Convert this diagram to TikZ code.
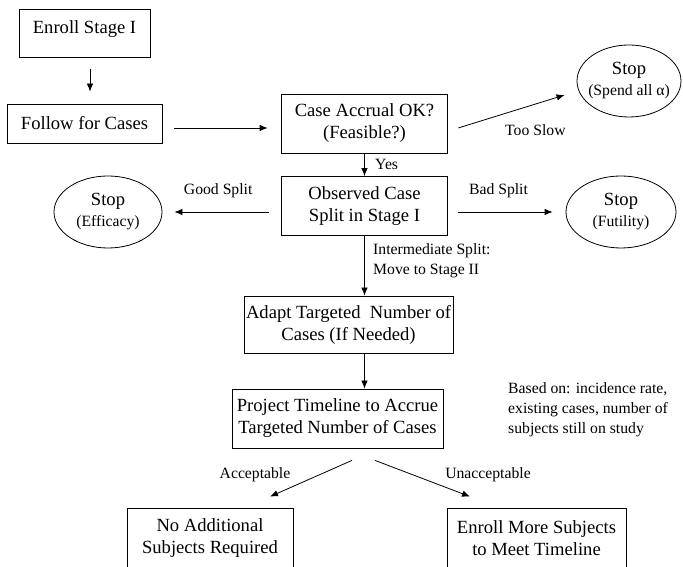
\documentclass[tikz,border=0pt]{standalone}
\usepackage{fontspec}
\setmainfont{Liberation Serif}
\usepackage{tikz}
\usetikzlibrary{shapes.geometric, arrows.meta}
\usetikzlibrary{shapes,arrows,positioning}
\newcommand{\bigtxt}{\fontsize{18.6pt}{22pt}\selectfont}
\newcommand{\smalltxt}{\fontsize{15.7pt}{20pt}\selectfont}
\tikzstyle{stagebox} = [rectangle, draw=black, line width=0.8pt, align=center, font=\bigtxt, inner sep=2pt]
\tikzstyle{stopnode} = [ellipse, draw=black, line width=0.8pt, align=center, font=\bigtxt, inner xsep=-8pt, inner ysep=0pt, minimum width=104pt, minimum height=72pt]
\tikzstyle{lbl} = [font=\smalltxt, align=left]
\tikzstyle{arrow} = [line width=0.8pt, -{Latex[length=8pt,width=6.5pt]}]
\tikzstyle{plainline} = [line width=0.8pt]

\begin{document}
\begin{tikzpicture}[x=1pt, y=1pt, node distance=90pt]
        \useasboundingbox (0,0) rectangle (683,567);

        % Stage I enrollment and follow-up
        \node (enroll) [stagebox, minimum width=131pt, minimum height=48pt, text depth=12.7pt] at (84.5,534) {Enroll Stage I};
        \node (follow) [stagebox, below of=enroll, node distance=90.5pt, minimum width=155pt, minimum height=39pt] {Follow for Cases};
        \node (caseok) [stagebox, right of=follow, node distance=280pt, minimum width=166pt, minimum height=59pt] {Case Accrual OK?\\(Feasible?)};
        \node (observed) [stagebox, below of=caseok, node distance=82.5pt, minimum width=166pt, minimum height=59pt] {Observed Case\\Split in Stage I};

        % Stopping outcomes
        \node (spend) [stopnode, right of=caseok, node distance=264.5pt, yshift=42.5pt] {Stop\\[-1pt]{\smalltxt (Spend all α)}};
        \node (efficacy) [stopnode, left of=observed, node distance=256.5pt, yshift=-6pt, minimum width=108pt] {Stop\\[-1pt]{\smalltxt (Efficacy)}};
        \node (futility) [stopnode, right of=observed, node distance=256.5pt, yshift=-6pt, minimum width=110pt] {Stop\\[-1pt]{\smalltxt (Futility)}};

        % Stage II planning
        \node (adapt) [stagebox, below of=observed, node distance=118.5pt, xshift=-16pt, minimum width=186pt, minimum height=57pt] {Adapt Targeted~ Number of\\Cases (If Needed)};
        \node (project) [stagebox, below of=adapt, node distance=94pt, xshift=-11pt, minimum width=211pt, minimum height=59pt] {Project Timeline to Accrue\\Targeted Number of Cases};
        \node (noadd) [stagebox, minimum width=166pt, minimum height=61pt] at (210,28.5) {No Additional\\Subjects Required};
        \node (moresub) [stagebox, minimum width=179pt, minimum height=61pt] at (536.5,28.5) {Enroll More Subjects\\to Meet Timeline};
        \node (basedlbl) [lbl, anchor=west] at (504.7,157) {Based on: incidence rate,\\existing cases, number of\\subjects still on study};

        % Connections
        \draw [arrow, shorten <=12pt, shorten >=12pt] ([xshift=5.5pt]enroll.south) -- ([xshift=5.5pt]follow.north);
        \draw [arrow, shorten <=12pt, shorten >=13.5pt] ([yshift=-4.5pt]follow.east) -- ([yshift=-4.5pt]caseok.west);
        \draw [arrow, shorten <=11pt, shorten >=12.6pt] ([yshift=-7.7pt]caseok.east) -- ([yshift=-10.3pt]spend.west)
            node (slowlbl) [lbl, pos=0.68, below=17pt] {Too Slow};
        \draw [arrow] (caseok.south) -- (observed.north)
            node (yeslbl) [lbl, midway, right=7pt] {Yes};
        \draw [arrow, shorten <=12.5pt, shorten >=12pt] ([yshift=-6pt]observed.west) -- (efficacy.east)
            node (goodlbl) [lbl, pos=0.53, above=10pt] {Good Split};
        \draw [arrow, shorten <=10.5pt, shorten >=13pt] ([yshift=-6pt]observed.east) -- (futility.west)
            node (badlbl) [lbl, pos=0.43, above=10pt] {Bad Split};
        \draw [arrow] (observed.south) -- (observed.south |- adapt.north)
            node (midlbl) [lbl, pos=0.42, right=5pt] {Intermediate Split:\\Move to Stage II};
        \draw [arrow] (observed.south |- adapt.south) -- (observed.south |- project.north);

        % Timeline outcomes
        \draw [arrow] ([xshift=14.5pt,yshift=-12pt]project.south) -- ([xshift=60pt,yshift=11pt]noadd.north);
        \draw [arrow] ([xshift=37.5pt,yshift=-12pt]project.south) -- ([xshift=-66.5pt,yshift=11pt]moresub.north);
        \node (acclbl) [lbl] at (255,92) {Acceptable};
        \node (unacclbl) [lbl] at (488,92) {Unacceptable};
\end{tikzpicture}
\end{document}
